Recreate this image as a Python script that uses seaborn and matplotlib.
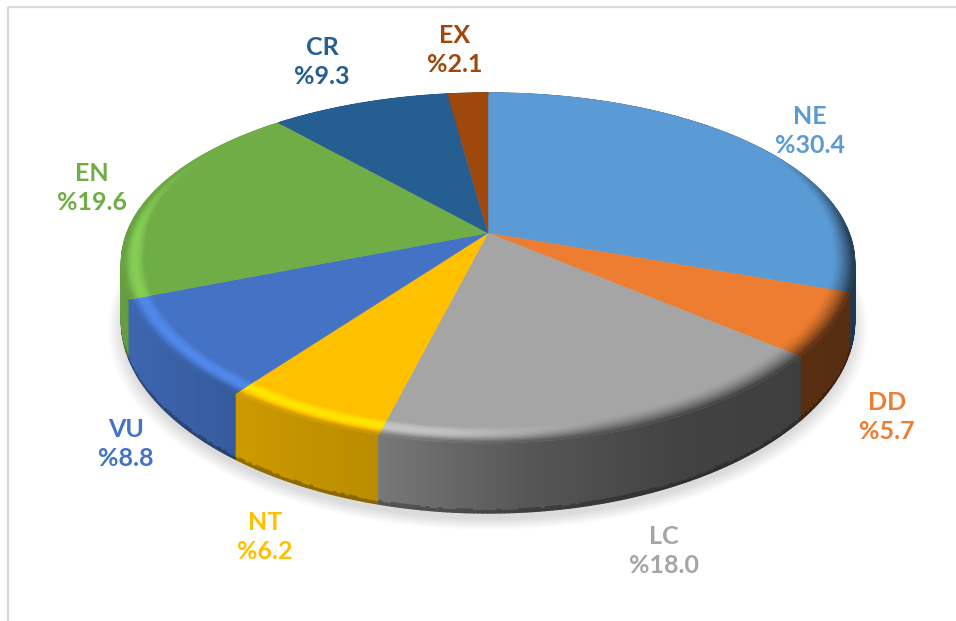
import numpy as np
import matplotlib
matplotlib.use("Agg")
import matplotlib.pyplot as plt
from matplotlib.collections import PolyCollection
import seaborn as sns

# ---- data ----
categories = ["NE", "DD", "LC", "NT", "VU", "EN", "CR", "EX"]
shares = [30.4, 5.7, 18.0, 6.2, 8.8, 19.6, 9.3, 2.1]
hex_colors = ["#5B9BD5", "#ED7D31", "#A5A5A5", "#FFC000", "#4472C4", "#70AD47", "#255E91", "#9E480E"]

# ---- label placement (pixel centres) ----
label_x = [810, 887, 664, 265, 126, 92, 322, 455]
label_y = [131, 417, 551, 537, 444, 188, 62, 50]

# ---- projection / style ----
CX, CY, RX, SY, KX, KY, DEPTH = 488, 233, 361, 168, 0.174, 0.2, 56
BEVEL = 0.06

sns.set_theme(style="white")
plt.rcParams["font.family"] = ["Lato", "DejaVu Sans"]
palette = sns.color_palette(hex_colors)

fig = plt.figure(figsize=(9.56, 6.21), dpi=100)
ax = fig.add_axes([0, 0, 1, 1])
ax.set_xlim(0, 956)
ax.set_ylim(621, 0)
ax.axis("off")


def project(theta, r=1.0, drop=0.0):
    u, v = r * np.sin(theta), r * np.cos(theta)
    den = 1 + KY * v
    return CX + RX * u / (1 + KX * v), CY - SY * v / den + drop * DEPTH / den


def side_factor(theta):
    return np.interp(np.sin(theta), [-1, -0.6, -0.25, 0.1, 0.45, 1], [0.92, 0.8, 0.73, 0.52, 0.40, 0.36])


def scale(c, f):
    return tuple(np.clip(np.array(c) * f, 0, 1))


# frame
ax.plot([8.5, 8.5], [621, 7], color="#d9d9d9", lw=1.6, solid_capstyle="butt")
ax.plot([8, 956], [7, 7], color="#d9d9d9", lw=1.6, solid_capstyle="butt")

# soft shadow
circle = np.linspace(0, 2 * np.pi, 360)
for i in range(12):
    rr = 1.035 - i * 0.0035
    sx, sy = project(circle, rr, 1.1)
    ax.fill(sx, sy, color="black", alpha=0.013, lw=0, zorder=1)

fractions = np.array(shares) / np.sum(shares)
edges = np.concatenate([[0], np.cumsum(fractions)]) * 2 * np.pi

# side wall
quads, fcolors, depth_keys = [], [], []
for a0, a1, col in zip(edges[:-1], edges[1:], palette):
    n = max(3, int((a1 - a0) / 0.01))
    th = np.linspace(a0, a1, n + 1)
    for t0, t1 in zip(th[:-1], th[1:]):
        tm = (t0 + t1) / 2
        f = side_factor(tm)
        for d0, d1, g in [(0, 0.95, 1.0), (0.95, 1.0, 0.72)]:
            x0, y0 = project(t0, 1, d0)
            x1, y1 = project(t1, 1, d0)
            x2, y2 = project(t1, 1, d1)
            x3, y3 = project(t0, 1, d1)
            quads.append([(x0, y0), (x1, y1), (x2, y2), (x3, y3)])
            fcolors.append(scale(col, f * g))
            depth_keys.append(-np.cos(tm))
order = np.argsort(depth_keys)
ax.add_collection(PolyCollection([quads[i] for i in order], facecolors=[fcolors[i] for i in order],
                                 edgecolors="face", linewidths=1.0, zorder=2))

# top face with bevel
for a0, a1, col in zip(edges[:-1], edges[1:], palette):
    th = np.linspace(a0, a1, max(3, int((a1 - a0) / 0.01)) + 1)
    x, y = project(th, 1.0)
    ax.fill(np.r_[CX, x], np.r_[CY, y], color=col, lw=0.3, zorder=3)
    polys, cols = [], []
    ts = np.linspace(0, 1, 13)
    for t0, t1 in zip(ts[:-1], ts[1:]):
        tm = (t0 + t1) / 2
        for p, q in zip(th[:-1], th[1:]):
            m = (p + q) / 2
            vm, um = np.cos(m), np.sin(m)
            width = BEVEL * np.interp(vm, [-0.1, 0.5], [1, 0.3])
            r0, r1 = 1 - width * (1 - t0), 1 - width * (1 - t1)
            fade = np.interp(vm, [0.0, 0.5], [1, 0])
            high = 0.2 * np.interp(um, [-1, -0.1, 0.35], [1, 1, 0]) * np.sin(np.pi * min(tm / 0.85, 1))
            left_ramp = max(0, tm - 0.55) / 0.45
            ramp = np.interp(um, [-0.2, 0.25], [left_ramp, 1])
            dark = (1 - side_factor(m)) * tm ** 1.5 * fade * ramp
            f = (1 - dark) * (1 + high * fade)
            xa, ya = project(p, r0)
            xb, yb = project(q, r0)
            xc, yc = project(q, r1)
            xd, yd = project(p, r1)
            polys.append([(xa, ya), (xb, yb), (xc, yc), (xd, yd)])
            cols.append(scale(col, f))
    ax.add_collection(PolyCollection(polys, facecolors=cols, edgecolors="face", linewidths=0.5, zorder=4))

# labels
for name, share, lx, ly, col in zip(categories, shares, label_x, label_y, palette):
    ax.text(lx, ly, f"{name}\n%{share:.1f}", color=col, ha="center", va="center",
            fontsize=18, fontweight="bold", linespacing=1.32, zorder=6)

fig.savefig("out.png", dpi=100, facecolor="white")
